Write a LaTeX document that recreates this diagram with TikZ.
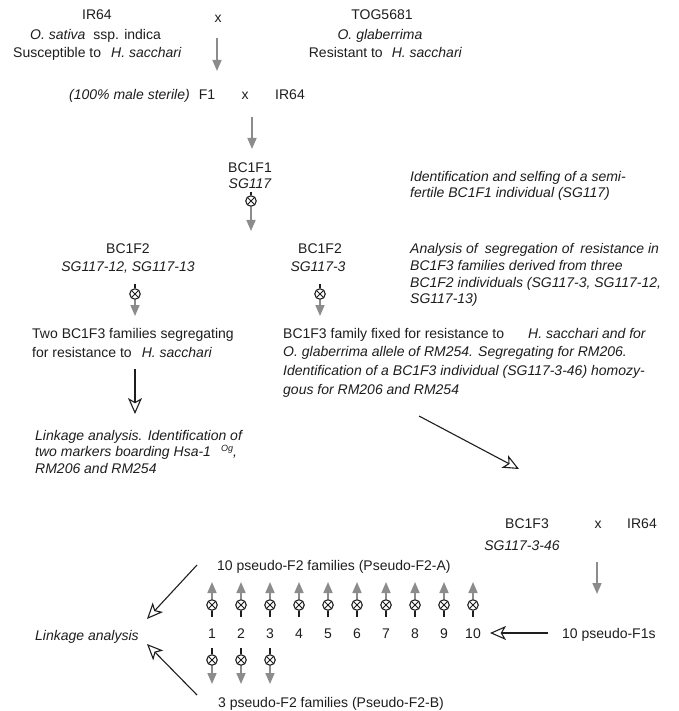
\documentclass[tikz,border=0pt]{standalone}
\usepackage{fontspec}
\setmainfont{Liberation Sans}
\usetikzlibrary{arrows.meta}
\definecolor{ink}{HTML}{1E1E1E}
\definecolor{arrgray}{HTML}{8C8C8C}
\begin{document}
\begin{tikzpicture}[x=1pt,y=-1pt,
  txt/.style={inner sep=0pt, font=\fontsize{14}{17}\selectfont, text=ink},
  lt/.style={txt, anchor=base west},
  rt/.style={txt, anchor=base east},
  ct/.style={txt, anchor=base},
  grayarr/.style={draw=arrgray, line width=1.6pt, -{Triangle[length=11pt,width=9pt]}, arrgray},
  blackarr/.style={draw=ink, line width=1.1pt, -{Stealth[open,length=16pt,width=14pt,inset=4pt]}},
  ticks/.style={draw=ink, line width=1.1pt},
  selfing/.style={circle, draw=ink, line width=1.1pt, minimum size=10.5pt, inner sep=0pt,
    path picture={\draw[line width=0.9pt, ink] (path picture bounding box.north west) -- (path picture bounding box.south east)
      (path picture bounding box.north east) -- (path picture bounding box.south west);}}
]
\useasboundingbox[fill=white] (0,0) rectangle (678,711);

% top cross
\node[ct] (ir64a) at (97,20) {IR64};
\node[lt] (sativa) at (30,40) {\itshape O. sativa\hspace{8pt}\upshape ssp. indica};
\node[lt] (susc) at (13,58) {Susceptible to\hspace{10pt}\itshape H. sacchari};
\node[ct] (cross1) at (218,23) {x};
\node[ct] (tog) at (382,20) {TOG5681};
\node[ct] (glab) at (380,40) {\itshape O. glaberrima};
\node[rt] (resis) at (462,58) {Resistant to\hspace{9pt}\itshape H. sacchari};
\coordinate (a1s) at (217,38);
\coordinate (a1e) at (217,71);
\draw[grayarr] (a1s) -- (a1e);

% F1 x IR64
\node[rt] (sterile) at (190,100) {\itshape (100\% male sterile)};
\node[ct] (f1) at (207,100) {F1};
\node[ct] (cross2) at (245,100) {x};
\node[ct] (ir64b) at (290,100) {IR64};
\coordinate (a2s) at (252,117);
\coordinate (a2e) at (252,149);
\draw[grayarr] (a2s) -- (a2e);

% BC1F1
\node[ct] (bc1f1) at (250,173) {BC1F1};
\node[ct] (sg117) at (250,189) {\itshape SG117};
\node[lt] (ident1) at (410,182) {\itshape Identification and selfing of a semi-};
\node[lt] (ident2) at (410,197) {\itshape fertile BC1F1 individual (SG117)};
\node[selfing] (s1) at (251,201) {};
\coordinate (s1t) at (251,192);
\coordinate (s1e) at (251,231);
\draw[ticks] (s1t) -- (s1);
\draw[grayarr] (s1) -- (s1e);

% BC1F2
\node[ct] (bc1f2l) at (128,253) {BC1F2};
\node[ct] (sgl) at (128,271) {\itshape SG117-12, SG117-13};
\node[ct] (bc1f2r) at (320,253) {BC1F2};
\node[ct] (sgr) at (318,271) {\itshape SG117-3};
\node[lt] (anal1) at (410,253) {\itshape Analysis of\hspace{3pt} segregation of\hspace{3pt} resistance in};
\node[lt] (anal2) at (410,270) {\itshape BC1F3 families derived from three};
\node[lt] (anal3) at (410,287) {\itshape BC1F2 individuals (SG117-3, SG117-12,};
\node[lt] (anal4) at (410,303) {\itshape SG117-13)};

\node[selfing] (s2) at (135,294) {};
\coordinate (s2t) at (135,284);
\coordinate (s2e) at (135,316);
\draw[ticks] (s2t) -- (s2);
\draw[grayarr] (s2) -- (s2e);
\node[selfing] (s3) at (320,294) {};
\coordinate (s3t) at (320,284);
\coordinate (s3e) at (320,316);
\draw[ticks] (s3t) -- (s3);
\draw[grayarr] (s3) -- (s3e);

% BC1F3
\node[lt] (two1) at (32,338) {Two BC1F3 families segregating};
\node[lt] (two2) at (32,357) {for resistance to\hspace{10pt}\itshape H. sacchari};
\node[lt] (fam1) at (283,338) {BC1F3 family fixed for resistance to\hspace{24pt}\itshape H. sacchari and for};
\node[lt] (fam2) at (283,356) {\itshape O. glaberrima allele of RM254. Segregating for RM206.};
\node[lt] (fam3) at (283,375) {\itshape Identification of a BC1F3 individual (SG117-3-46) homozy-};
\node[lt] (fam4) at (283,394) {\itshape gous for RM206 and RM254};

\coordinate (a3s) at (135,369);
\coordinate (a3e) at (135,414);
\draw[blackarr] (a3s) -- (a3e);
\node[lt] (link1) at (35,440) {\itshape Linkage analysis. Identification of};
\node[lt] (link2) at (35,456) {\itshape two markers boarding Hsa-1\hspace{10pt}\raisebox{5pt}{\fontsize{9}{10}\selectfont Og},};
\node[lt] (link3) at (35,473) {\itshape RM206 and RM254};

\coordinate (a4s) at (419,416);
\coordinate (a4e) at (519,469);
\draw[blackarr] (a4s) -- (a4e);

% BC1F3 x IR64
\node[ct] (bc1f3) at (527,528) {BC1F3};
\node[ct] (cross3) at (598,528) {x};
\node[ct] (ir64c) at (642,528) {IR64};
\node[ct] (sg346) at (522,550) {\itshape SG117-3-46};
\coordinate (a5s) at (597,562);
\coordinate (a5e) at (597,594);
\draw[grayarr] (a5s) -- (a5e);
\node[lt] (pf1) at (562,638) {10 pseudo-F1s};
\coordinate (a6s) at (548,633);
\coordinate (a6e) at (490,633);
\draw[blackarr] (a6s) -- (a6e);

% pseudo-F2 families
\node[lt] (pf2a) at (217,570) {10 pseudo-F2 families (Pseudo-F2-A)};
\node[lt] (pf2b) at (218,707) {3 pseudo-F2 families (Pseudo-F2-B)};
\foreach \i in {1,...,10} {
  \pgfmathsetmacro\xx{212+29*(\i-1)}
  \node[ct] (n\i) at (\xx,638) {\i};
  \node[selfing] (u\i) at (\xx,605) {};
  \coordinate (ut\i) at (\xx,582);
  \coordinate (ub\i) at (\xx,617);
  \draw[ticks] (ub\i) -- (u\i);
  \draw[grayarr] (u\i) -- (ut\i);
}
\foreach \i in {1,2,3} {
  \pgfmathsetmacro\xx{212+29*(\i-1)}
  \node[selfing] (d\i) at (\xx,660) {};
  \coordinate (dt\i) at (\xx,648);
  \coordinate (de\i) at (\xx,684);
  \draw[ticks] (dt\i) -- (d\i);
  \draw[grayarr] (d\i) -- (de\i);
}

\node[lt] (linkage) at (35,640) {\itshape Linkage analysis};
\coordinate (a7s) at (197,565);
\coordinate (a7e) at (147,619);
\draw[blackarr] (a7s) -- (a7e);
\coordinate (a8s) at (197,695);
\coordinate (a8e) at (147,644);
\draw[blackarr] (a8s) -- (a8e);
\end{tikzpicture}
\end{document}
